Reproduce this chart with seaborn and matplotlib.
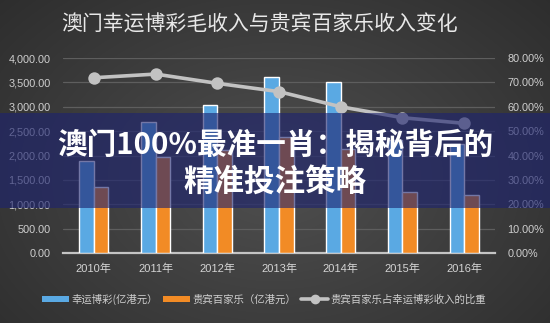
import numpy as np
import pandas as pd
import matplotlib
matplotlib.use("Agg")
import matplotlib.pyplot as plt
from matplotlib.patches import Rectangle, Patch
from matplotlib.lines import Line2D
from matplotlib.ticker import FuncFormatter, MultipleLocator
import seaborn as sns

years = ["2010年", "2011年", "2012年", "2013年", "2014年", "2015年", "2016年"]
gaming = [1883, 2679, 3041, 3607, 3515, 2318, 2232]
baccarat = [1350, 1965, 2110, 2385, 2135, 1255, 1190]
ratio = [71.9, 73.4, 69.6, 66.2, 60.0, 55.5, 53.2]
series_names = ["幸运博彩(亿港元）", "贵宾百家乐（亿港元）", "贵宾百家乐占幸运博彩收入的比重"]
title = "澳门幸运博彩毛收入与贵宾百家乐收入变化"
overlay_lines = ["澳门100%最准一肖：揭秘背后的", "精准投注策略"]

sns.set_theme(style="dark")
plt.rcParams["font.family"] = ["Liberation Sans", "Noto Sans CJK SC", "DejaVu Sans"]

W, H = 550, 323
fig = plt.figure(figsize=(W / 100, H / 100), dpi=100)

# background gradient (vignette)
bg = fig.add_axes([0, 0, 1, 1], zorder=-10)
yy, xx = np.mgrid[0:H, 0:W]
r = np.sqrt(((xx - W * 0.5) / (W * 0.62)) ** 2 + ((yy - H * 0.55) / (H * 0.75)) ** 2)
v = np.clip(0.31 - 0.12 * r, 0.18, 0.32)
bg.imshow(np.dstack([v, v, v]), aspect="auto", extent=[0, 1, 0, 1])
bg.axis("off")

ax = fig.add_axes([63 / W, 1 - 253 / H, (495 - 63) / W, (253 - 58) / H])
ax.set_facecolor("none")

df = pd.DataFrame({
    "year": years * 2,
    "value": gaming + baccarat,
    "series": [series_names[0]] * len(years) + [series_names[1]] * len(years),
})
blue = "#5aa9e3"
orange = "#f28b25"
sns.barplot(data=df, x="year", y="value", hue="series", order=years,
            palette=[blue, orange], width=0.47, gap=0, ax=ax,
            saturation=1, legend=False, zorder=3)

ax.set_ylim(0, 4000)
ax.set_xlim(-0.5, 6.5)
ax.yaxis.set_major_locator(MultipleLocator(500))
ax.yaxis.set_major_formatter(FuncFormatter(lambda v, p: f"{v:,.2f}"))
ax.grid(axis="y", color="#5e5e5e", linewidth=0.9, zorder=0)
ax.grid(axis="x", visible=False)
for s in ["top", "right", "left"]:
    ax.spines[s].set_visible(False)
ax.spines["bottom"].set_color("#c4c4c4")
ax.spines["bottom"].set_linewidth(1.6)
ax.set_xlabel("")
ax.set_ylabel("")
ax.tick_params(axis="y", length=0, pad=9, labelsize=7.8, labelcolor="#cfcfcf")
ax.tick_params(axis="x", length=0, pad=8, labelsize=8, labelcolor="#d4d4d4")

ax2 = ax.twinx()
ax2.set_facecolor("none")
sns.pointplot(x=years, y=ratio, order=years, color="#c2c2c2", ax=ax2,
              markers="o", markersize=7, linewidth=2.6, errorbar=None)
ax2.set_ylim(0, 80)
ax2.set_xlim(-0.5, 6.5)
ax2.yaxis.set_major_locator(MultipleLocator(10))
ax2.yaxis.set_major_formatter(FuncFormatter(lambda v, p: f"{v:.2f}%"))
ax2.grid(False)
for s in ["top", "right", "left", "bottom"]:
    ax2.spines[s].set_visible(False)
ax2.tick_params(axis="y", length=0, pad=9, labelsize=7.8, labelcolor="#cfcfcf")
ax2.set_ylabel("")

fig.text(260 / W, 1 - 25 / H, title, ha="center", va="center",
         fontsize=15, color="#e8e8e8", family=["Noto Sans CJK SC"])

handles = [
    Patch(facecolor=blue, edgecolor="none"),
    Patch(facecolor=orange, edgecolor="none"),
    Line2D([0], [0], color="#c2c2c2", lw=2.6, marker="o", markersize=6),
]
leg = fig.legend(handles, series_names, loc="center", bbox_to_anchor=(0.48, 1 - 299 / H),
                 ncol=3, frameon=False, handlelength=2.6, handleheight=0.5,
                 columnspacing=0.5, handletextpad=0.2, labelcolor="#cfcfcf",
                 prop={"family": ["Noto Sans CJK SC"], "size": 7.5})

# overlay band with headline
fig.add_artist(Rectangle((0, 1 - 208 / H), 1, 95 / H, transform=fig.transFigure,
                         facecolor="#1d2370", alpha=0.62, edgecolor="none", zorder=20))
fig.text(0.5, 1 - 145 / H, overlay_lines[0], ha="center", va="center", fontsize=21.3,
         color="white", fontweight="heavy", family=["Noto Sans CJK SC"], zorder=21)
fig.text(0.5, 1 - 182 / H, overlay_lines[1], ha="center", va="center", fontsize=22,
         color="white", fontweight="heavy", family=["Noto Sans CJK SC"], zorder=21)

fig.savefig("out.png", dpi=100)
